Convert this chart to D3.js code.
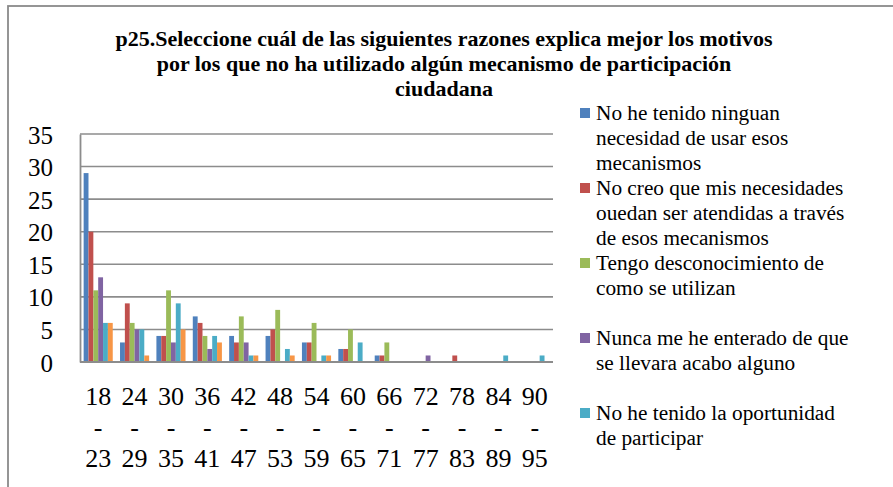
<!DOCTYPE html>
<html>
<head>
<meta charset="utf-8">
<script src="https://cdn.jsdelivr.net/npm/d3@7"></script>
<style>
  body { margin: 0; background: #fff; }
  svg text { font-family: "Liberation Serif", "Times New Roman", serif; fill: #000; }
</style>
</head>
<body>
<div id="chart"></div>
<script>
const categories = ["18-23", "24-29", "30-35", "36-41", "42-47", "48-53", "54-59",
  "60-65", "66-71", "72-77", "78-83", "84-89", "90-95"];

const titleLines = [
  "p25.Seleccione cuál de las siguientes razones explica mejor los motivos",
  "por los que no ha utilizado algún mecanismo de participación",
  "ciudadana"
];

// legend text, already broken into lines as in the picture
const seriesNames = [
  ["No he tenido ninguan", "necesidad de usar esos", "mecanismos"],
  ["No creo que mis necesidades", "ouedan ser atendidas a través", "de esos mecanismos"],
  ["Tengo desconocimiento de", "como se utilizan"],
  ["Nunca me he enterado de que", "se llevara acabo alguno"],
  ["No he tenido la oportunidad", "de participar"],
  ["Otro"]
];

const noNecesidad   = [29, 3, 4, 7, 4, 4, 3, 2, 1, 0, 0, 0, 0];
const noAtendidas   = [20, 9, 4, 6, 3, 5, 3, 2, 1, 0, 1, 0, 0];
const desconozco    = [11, 6, 11, 4, 7, 8, 6, 5, 3, 0, 0, 0, 0];
const nuncaEnterado = [13, 5, 3, 2, 3, 0, 0, 0, 0, 1, 0, 0, 0];
const sinOportunidad = [6, 5, 9, 4, 1, 2, 1, 3, 0, 0, 0, 1, 1];
const otro          = [6, 1, 5, 3, 1, 1, 1, 0, 0, 0, 0, 0, 0];

const seriesValues = [noNecesidad, noAtendidas, desconozco, nuncaEnterado, sinOportunidad, otro];
const colors = ["#4F81BD", "#C0504D", "#9BBB59", "#8064A2", "#4BACC6", "#F79646"];

const yTicks = [0, 5, 10, 15, 20, 25, 30, 35];

const width = 893, height = 487;
const plot = { left: 80, right: 553, top: 134, bottom: 362 };

const svg = d3.select("#chart").append("svg")
  .attr("width", width)
  .attr("height", height);

// outer chart frame (runs off the right and bottom edge)
svg.append("rect")
  .attr("x", 8).attr("y", 6)
  .attr("width", 920).attr("height", 520)
  .attr("fill", "none")
  .attr("stroke", "#8a8a8a")
  .attr("stroke-width", 1.8);

svg.append("g")
  .selectAll("text")
  .data(titleLines)
  .enter()
  .append("text")
  .attr("x", 444)
  .attr("y", (d, i) => 46 + i * 25)
  .attr("text-anchor", "middle")
  .attr("font-weight", "bold")
  .attr("font-size", 22)
  .text(d => d);

const x0 = d3.scaleBand()
  .domain(categories)
  .range([plot.left, plot.right])
  .paddingInner(0.2)
  .paddingOuter(0.1);

const x1 = d3.scaleBand()
  .domain(d3.range(seriesValues.length))
  .range([0, x0.bandwidth()]);

const y = d3.scaleLinear()
  .domain([0, 35])
  .range([plot.bottom, plot.top]);

// gridlines
svg.append("g")
  .selectAll("line")
  .data(yTicks.filter(t => t > 0))
  .enter()
  .append("line")
  .attr("x1", plot.left).attr("x2", plot.right)
  .attr("y1", d => y(d)).attr("y2", d => y(d))
  .attr("stroke", "#8c8c8c")
  .attr("stroke-width", 1.6);

// bars
svg.append("g")
  .selectAll("g")
  .data(seriesValues)
  .enter()
  .append("g")
  .attr("fill", (d, i) => colors[i])
  .each(function(vals, si) {
    d3.select(this)
      .selectAll("rect")
      .data(vals)
      .enter()
      .append("rect")
      .attr("x", (d, ci) => x0(categories[ci]) + x1(si))
      .attr("width", x1.bandwidth())
      .attr("y", d => y(d))
      .attr("height", d => y(0) - y(d));
  });

// y axis
const yAxis = d3.axisLeft(y).tickValues(yTicks).tickSize(0).tickPadding(27);
const yg = svg.append("g")
  .attr("transform", `translate(${plot.left},0)`)
  .call(yAxis);
yg.attr("font-family", null);
yg.select(".domain").attr("stroke", "#8c8c8c").attr("stroke-width", 1.8);
yg.selectAll("text")
  .attr("font-size", 25)
  .attr("dy", "0.36em");

// x axis line
svg.append("line")
  .attr("x1", plot.left).attr("x2", plot.right)
  .attr("y1", y(0)).attr("y2", y(0))
  .attr("stroke", "#8c8c8c")
  .attr("stroke-width", 1.8);

// category labels: "18" / "-" / "23"
const xl = svg.append("g")
  .selectAll("text")
  .data(categories)
  .enter()
  .append("text")
  .attr("text-anchor", "middle")
  .attr("font-size", 26);
xl.each(function(d) {
  const parts = d.split("-");
  const cx = x0(d) + x0.bandwidth() / 2;
  const t = d3.select(this);
  [parts[0], "-", parts[1]].forEach((p, i) => {
    t.append("tspan").attr("x", cx).attr("y", 405 + i * 31).text(p);
  });
});

// legend (the sixth entry falls below the frame, as in the source)
const legend = svg.append("g")
  .selectAll("g")
  .data(seriesNames.slice(0, 5))
  .enter()
  .append("g")
  .attr("transform", (d, i) => `translate(580,${113 + i * 75})`);

legend.append("rect")
  .attr("x", 0).attr("y", -5)
  .attr("width", 10).attr("height", 10)
  .attr("fill", (d, i) => colors[i]);

legend.append("text")
  .attr("font-size", 21.3)
  .each(function(lines) {
    const t = d3.select(this);
    lines.forEach((l, i) => {
      t.append("tspan").attr("x", 16).attr("y", 7 + i * 25).text(l);
    });
  });
</script>
</body>
</html>
